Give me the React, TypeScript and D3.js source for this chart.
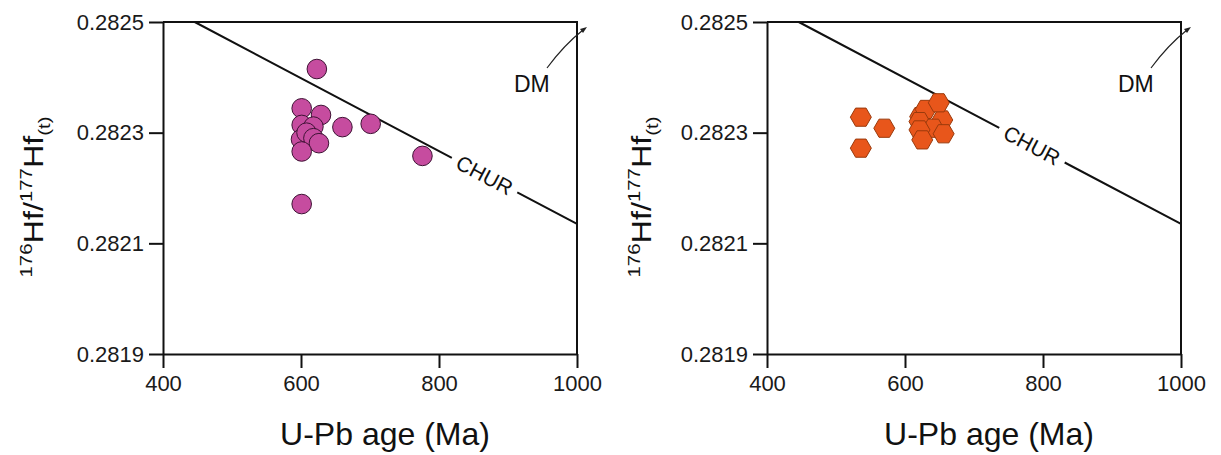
import React, { useEffect, useRef } from 'react';
import * as d3 from 'd3';

// age (Ma), 176Hf/177Hf(t)
const leftAges = [601, 629, 601, 618, 660, 701, 600, 608, 618, 626, 601, 776, 601, 623];
const leftRatios = [0.282344, 0.282332, 0.282314, 0.282311, 0.28231, 0.282316, 0.282288, 0.2823, 0.28229, 0.282281, 0.282266, 0.282258, 0.282171, 0.282415];

const rightAges = [536, 570, 536, 622, 630, 654, 621, 641, 621, 656, 625, 649];
const rightRatios = [0.282328, 0.282308, 0.282272, 0.282329, 0.282342, 0.282323, 0.28232, 0.282308, 0.282305, 0.282298, 0.282287, 0.282354];

const xTicks = [400, 600, 800, 1000];
const yTicks = [0.2819, 0.2821, 0.2823, 0.2825];
const churAges = [446, 1000];
const churRatios = [0.2825, 0.282135];

const App = () => {
  const svgRef = useRef();

  useEffect(() => {
    const svg = d3.select(svgRef.current);
    svg.selectAll("*").remove();

    const font = "'Liberation Sans', Arial, sans-serif";

    const panels = [
      { left: 163, ages: leftAges, ratios: leftRatios, shape: "circle", churAt: 866, titleX: 43 },
      { left: 767, ages: rightAges, ratios: rightRatios, shape: "hex", churAt: 784, titleX: 651 },
    ];

    panels.forEach(p => {
      const x = d3.scaleLinear().domain([400, 1000]).range([p.left, p.left + 414]);
      const y = d3.scaleLinear().domain([0.2819, 0.2825]).range([354, 22]);
      const g = svg.append("g");

      // frame top and right
      g.append("path")
        .attr("d", `M${x(400)},${y(0.2825)}H${x(1000)}V${y(0.2819)}`)
        .attr("fill", "none").attr("stroke", "#111").attr("stroke-width", 2);

      const xAxis = g.append("g")
        .attr("transform", `translate(0,${y(0.2819)})`)
        .call(d3.axisBottom(x).tickValues(xTicks).tickFormat(d3.format("d")).tickSize(14).tickSizeOuter(0).tickPadding(7));
      const yAxis = g.append("g")
        .attr("transform", `translate(${x(400)},0)`)
        .call(d3.axisLeft(y).tickValues(yTicks).tickFormat(d3.format(".4f")).tickSize(14).tickSizeOuter(0).tickPadding(5));
      [xAxis, yAxis].forEach(a => {
        a.attr("font-family", font).attr("font-size", 22);
        a.select(".domain").attr("stroke", "#111").attr("stroke-width", 2);
        a.selectAll(".tick line").attr("stroke", "#111").attr("stroke-width", 2);
        a.selectAll(".tick text").attr("fill", "#1a1a1a");
      });

      // CHUR line with gap for label
      const x0 = x(churAges[0]), y0 = y(churRatios[0]);
      const x1 = x(churAges[1]), y1 = y(churRatios[1]);
      const ang = Math.atan2(y1 - y0, x1 - x0);
      const slope = (churRatios[1] - churRatios[0]) / (churAges[1] - churAges[0]);
      const lx = x(p.churAt), ly = y(churRatios[0] + slope * (p.churAt - churAges[0]));
      const half = 37;
      const gx = half * Math.cos(ang), gy = half * Math.sin(ang);
      g.append("path")
        .attr("d", `M${x0},${y0}L${lx - gx},${ly - gy}M${lx + gx},${ly + gy}L${x1},${y1}`)
        .attr("fill", "none").attr("stroke", "#111").attr("stroke-width", 2);
      g.append("text")
        .attr("transform", `translate(${lx},${ly}) rotate(${ang * 180 / Math.PI})`)
        .attr("text-anchor", "middle").attr("dominant-baseline", "central")
        .attr("font-family", font).attr("font-size", 21).attr("fill", "#111")
        .text("CHUR");

      // DM label and arrow
      const dmX = x(1000) - 63;
      g.append("text")
        .attr("x", dmX).attr("y", 92)
        .attr("font-family", font).attr("font-size", 23).attr("fill", "#111")
        .text("DM");
      g.append("path")
        .attr("d", `M${dmX + 33},${68} Q${dmX + 50},${45} ${dmX + 69},${30}`)
        .attr("fill", "none").attr("stroke", "#222").attr("stroke-width", 1.2);
      g.append("path")
        .attr("d", `M${dmX + 73},${27} l-7,2 l3,4 z`)
        .attr("fill", "#222");

      // points
      const pts = p.ages.map((a, i) => [x(a), y(p.ratios[i])]);
      if (p.shape === "circle") {
        g.selectAll(".pt").data(pts).enter().append("circle")
          .attr("cx", d => d[0]).attr("cy", d => d[1]).attr("r", 9.8)
          .attr("fill", "#c64c9f").attr("stroke", "#3e1234").attr("stroke-width", 1);
      } else {
        const r = 10.5;
        const hex = d3.range(6).map(k => [r * Math.cos(k * Math.PI / 3), r * Math.sin(k * Math.PI / 3)]);
        g.selectAll(".pt").data(pts).enter().append("path")
          .attr("d", d => "M" + hex.map(h => `${d[0] + h[0]},${d[1] + h[1]}`).join("L") + "Z")
          .attr("fill", "#e8561b").attr("stroke", "#9a3a0c").attr("stroke-width", 1);
      }

      // axis titles
      g.append("text")
        .attr("x", (x(400) + x(1000)) / 2 + 15).attr("y", 445)
        .attr("text-anchor", "middle")
        .attr("font-family", font).attr("font-size", 32).attr("fill", "#111")
        .text("U-Pb age (Ma)");

      const t = g.append("text")
        .attr("transform", `translate(${p.titleX},197) rotate(-90) scale(1.2,1)`)
        .attr("text-anchor", "middle")
        .attr("font-family", font).attr("font-size", 27).attr("fill", "#111");
      t.append("tspan").attr("font-size", 17).attr("dy", -11).text("176");
      t.append("tspan").attr("dy", 11).text("Hf/");
      t.append("tspan").attr("font-size", 17).attr("dy", -11).text("177");
      t.append("tspan").attr("dy", 11).text("Hf");
      t.append("tspan").attr("font-size", 17).attr("dy", 7).text("(t)");
    });
  }, []);

  return (
    <svg ref={svgRef} width={1221} height={455}
      style={{ position: "absolute", left: 0, top: 0, background: "#fff" }} />
  );
};

export default App;
